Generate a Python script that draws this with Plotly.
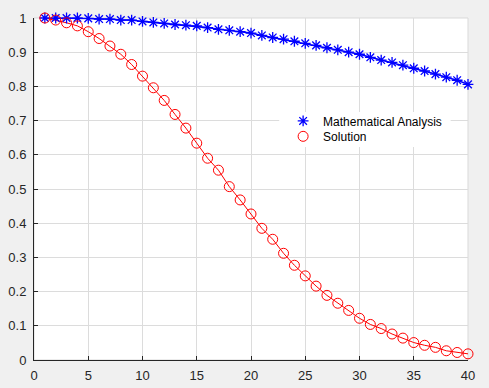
import plotly.graph_objects as go

x_vals = list(range(1, 41))
analysis = [1.000, 1.000, 1.000, 1.000, 0.999, 0.997, 0.997, 0.994, 0.994, 0.990,
            0.987, 0.984, 0.981, 0.979, 0.977, 0.972, 0.967, 0.964, 0.960, 0.956,
            0.949, 0.943, 0.938, 0.932, 0.926, 0.920, 0.913, 0.907, 0.900, 0.894,
            0.885, 0.877, 0.870, 0.862, 0.853, 0.845, 0.836, 0.827, 0.818, 0.806]
solution = [1.000, 0.994, 0.986, 0.977, 0.960, 0.940, 0.918, 0.894, 0.864, 0.830,
            0.796, 0.759, 0.718, 0.678, 0.634, 0.590, 0.555, 0.507, 0.468, 0.427,
            0.385, 0.353, 0.312, 0.277, 0.246, 0.216, 0.189, 0.166, 0.145, 0.122,
            0.104, 0.092, 0.076, 0.064, 0.051, 0.043, 0.037, 0.027, 0.022, 0.018]
x_ticks = [0, 5, 10, 15, 20, 25, 30, 35, 40]
y_ticks = [0, 0.1, 0.2, 0.3, 0.4, 0.5, 0.6, 0.7, 0.8, 0.9, 1]
y_tick_labels = ["0", "0.1", "0.2", "0.3", "0.4", "0.5", "0.6", "0.7", "0.8", "0.9", "1"]

fig = go.Figure()
fig.add_trace(go.Scatter(x=x_vals, y=analysis, mode="lines", line=dict(color="#0000ff", width=1.6),
                         showlegend=False, hoverinfo="skip"))
fig.add_trace(go.Scatter(x=x_vals, y=solution, mode="lines", line=dict(color="#ff0000", width=1),
                         showlegend=False, hoverinfo="skip"))
fig.add_trace(go.Scatter(x=x_vals, y=analysis, mode="markers", name="Mathematical Analysis",
                         cliponaxis=False, legend="legend",
                         marker=dict(symbol="asterisk-open", size=9, color="#0000ff",
                                     line=dict(color="#0000ff", width=1.3))))
fig.add_trace(go.Scatter(x=x_vals, y=solution, mode="markers", name="Solution",
                         cliponaxis=False, legend="legend2",
                         marker=dict(symbol="circle-open", size=10, color="#ff0000",
                                     line=dict(color="#ff0000", width=1))))

# plot-area border (light) and legend background box
fig.add_shape(type="rect", xref="paper", yref="paper", x0=0, y0=0, x1=1, y1=1,
              line=dict(color="#d9d9d9", width=1), layer="below")
fig.add_shape(type="rect", xref="paper", yref="paper", x0=0.565, x1=0.96, y0=0.623, y1=0.725,
              line=dict(width=0), fillcolor="#ffffff", layer="above")

leg_common = dict(xanchor="left", yanchor="middle", bgcolor="rgba(0,0,0,0)", borderwidth=0,
                  font=dict(family="Liberation Sans, Arial, sans-serif", size=12, color="#000000"))
fig.update_layout(
    width=489, height=388,
    margin=dict(l=34, r=21, t=18, b=28, autoexpand=False),
    paper_bgcolor="#f0f0f0", plot_bgcolor="#ffffff",
    font=dict(family="Liberation Sans, Arial, sans-serif", size=13, color="#262626"),
    legend=dict(x=0.574, y=0.699, **leg_common),
    legend2=dict(x=0.574, y=0.654, **leg_common),
    showlegend=True,
)
fig.update_xaxes(range=[0, 40], tickvals=x_ticks, showgrid=True, gridcolor="#dcdcdc", gridwidth=1,
                 showline=True, linecolor="#262626", linewidth=1, zeroline=False,
                 ticks="inside", ticklen=4, tickcolor="#262626", ticklabelstandoff=3)
fig.update_yaxes(range=[0, 1], tickvals=y_ticks, ticktext=y_tick_labels, showgrid=True,
                 gridcolor="#dcdcdc", gridwidth=1,
                 showline=True, linecolor="#262626", linewidth=1, zeroline=False,
                 ticks="inside", ticklen=4, tickcolor="#262626", ticklabelstandoff=4)

fig.write_html("out.html", config={"displayModeBar": False},
               post_script="document.body.style.margin='0';")
